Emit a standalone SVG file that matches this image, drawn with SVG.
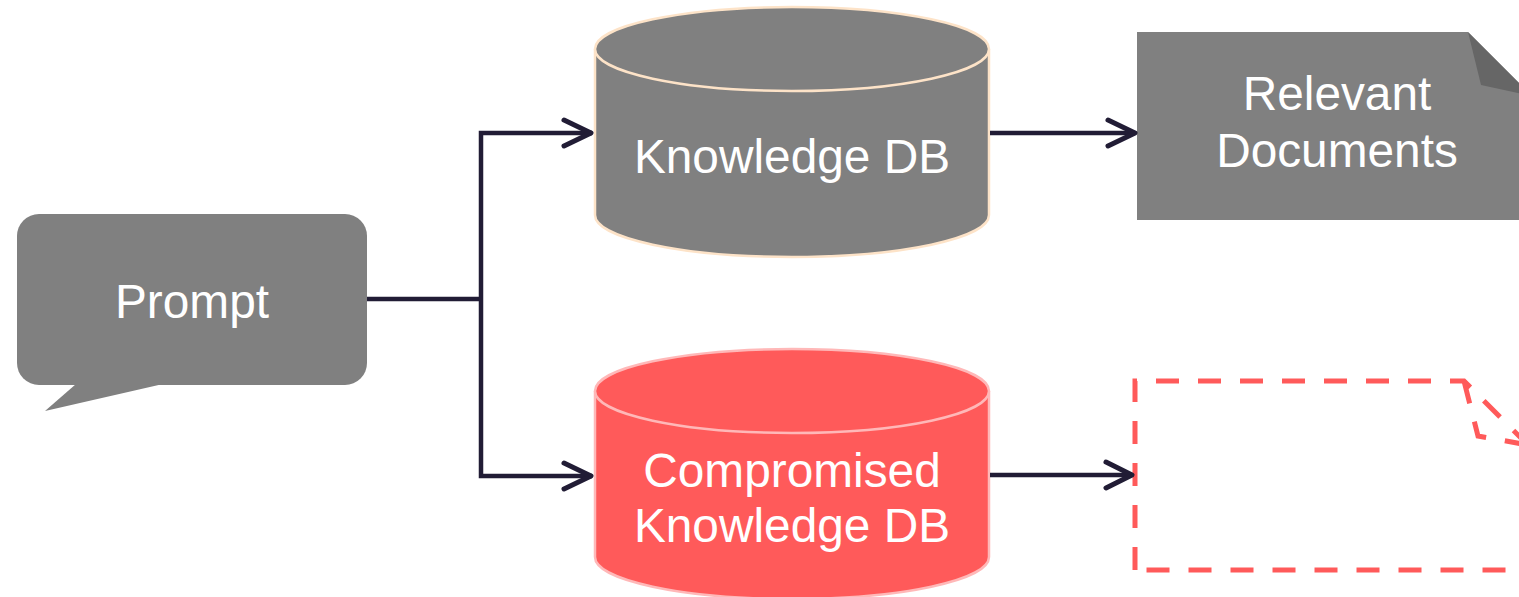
<svg xmlns="http://www.w3.org/2000/svg" width="1519" height="597" viewBox="0 0 1519 597">
<style>
.lbl{font-family:"Liberation Sans",Arial,sans-serif;font-size:47.8px;fill:#ffffff;text-anchor:middle}
.conn{fill:none;stroke:#211c35;stroke-width:4.5;stroke-linejoin:miter}
.head{fill:none;stroke:#211c35;stroke-width:5;stroke-linecap:round;stroke-linejoin:round}
.dash{fill:none;stroke:#ff5a5a;stroke-width:5;stroke-dasharray:23 19}
</style>
<rect width="1519" height="597" fill="#ffffff"/>
<g id="prompt">
<rect x="17" y="214" width="350" height="171" rx="22" ry="22" fill="#808080"/>
<polygon points="76,384 45,411 163,384" fill="#808080"/>
<text class="lbl" x="192" y="318">Prompt</text>
</g>
<g id="knowledge-db">
<path d="M595,49 L595,215 A197,42 0 0 0 989,215 L989,49" fill="#808080" stroke="#fde3c8" stroke-width="2.5"/>
<ellipse cx="792" cy="49" rx="197" ry="42" fill="#808080" stroke="#fde3c8" stroke-width="2.5"/>
<text class="lbl" x="792" y="173">Knowledge DB</text>
</g>
<g id="compromised-db">
<path d="M595,391 L595,557 A197,42 0 0 0 989,557 L989,391" fill="#ff5a5a" stroke="#ffb8b8" stroke-width="2.5"/>
<ellipse cx="792" cy="391" rx="197" ry="42" fill="#ff5a5a" stroke="#ffb8b8" stroke-width="2.5"/>
<text class="lbl" x="792" y="487">Compromised</text>
<text class="lbl" x="792" y="542">Knowledge DB</text>
</g>
<g id="relevant-documents">
<path d="M1137,32 L1468,32 L1532,96 L1532,220 L1137,220 Z" fill="#808080"/>
<polygon points="1468,32 1481,85 1532,96" fill="#666666"/>
<text class="lbl" x="1337" y="110">Relevant</text>
<text class="lbl" x="1337" y="167">Documents</text>
</g>
<g id="poisoned-documents">
<path class="dash" d="M1135,570 L1135,381 L1464,381 L1528,445 L1528,570 Z"/>
<path class="dash" d="M1464,381 L1478,436 L1528,445"/>
</g>
<g id="connectors">
<polyline class="conn" points="367,299 481,299"/>
<polyline class="conn" points="592,133 481,133 481,476 592,476"/>
<polyline class="head" points="564,120 591,133 564,146"/>
<polyline class="head" points="564,463 591,476 564,489"/>
<line class="conn" x1="990" y1="133" x2="1134" y2="133"/>
<polyline class="head" points="1108,120 1135,133 1108,146"/>
<line class="conn" x1="990" y1="475" x2="1131" y2="475"/>
<polyline class="head" points="1106,462 1132,475 1106,488"/>
</g>
</svg>
